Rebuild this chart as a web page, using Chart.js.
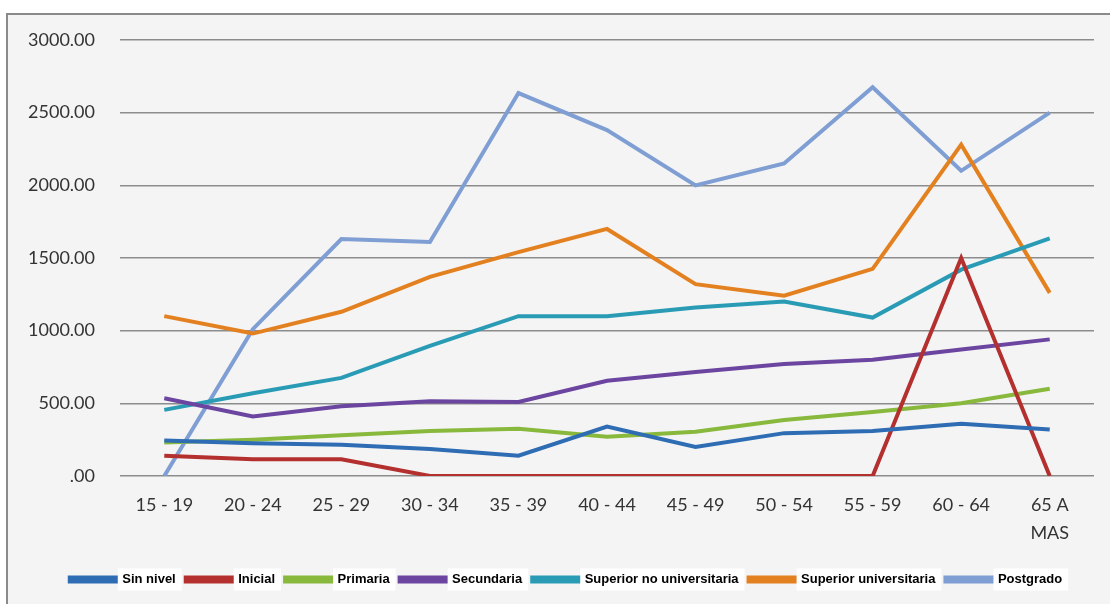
<!DOCTYPE html>
<html>
<head>
<meta charset="utf-8">
<script src="https://cdn.jsdelivr.net/npm/chart.js@4/dist/chart.umd.min.js"></script>
<style>
  body { margin: 0; background: #ffffff; }
  #marco { position: absolute; left: 6px; top: 13px; width: 1110px; height: 600px;
           border-left: 2px solid #8a8a8a; border-top: 2px solid #8a8a8a; background: #f4f4f4; }
  #wrap { position: absolute; left: 0; top: 0; width: 1110px; height: 604px; }
</style>
</head>
<body>
<div id="marco"></div>
<div id="wrap"><canvas id="grafico"></canvas></div>
<script>
// Datos
const edades = ["15 - 19", "20 - 24", "25 - 29", "30 - 34", "35 - 39", "40 - 44", "45 - 49", "50 - 54", "55 - 59", "60 - 64", ["65 A", "MAS"]];
const sinNivel = [245, 225, 215, 185, 140, 340, 200, 295, 310, 360, 320];
const inicial = [140, 115, 115, 0, 0, 0, 0, 0, 0, 1500, 0];
const primaria = [230, 250, 280, 310, 325, 270, 305, 385, 440, 500, 600];
const secundaria = [535, 410, 480, 515, 510, 655, 715, 770, 800, 870, 940];
const superiorNoUniv = [455, 570, 675, 895, 1100, 1100, 1160, 1200, 1090, 1420, 1635];
const superiorUniv = [1100, 980, 1130, 1370, 1540, 1700, 1320, 1240, 1425, 2280, 1260];
const postgrado = [0, 1010, 1630, 1610, 2635, 2380, 2000, 2150, 2675, 2100, 2500];

const colores = ["#2e6cb3", "#b3302f", "#88b93c", "#6b45a0", "#2a9bb5", "#e3801f", "#7f9ed3"];

function serie(label, data, color) {
    return {
        label: label,
        data: data,
        borderColor: color,
        backgroundColor: color,
        borderWidth: 4,
        pointRadius: 0,
        tension: 0,
        fill: false,
    };
}

// Leyenda: desplazada a la derecha y con fondo blanco detrás de los textos
const fondoLeyenda = {
    id: "fondoLeyenda",
    afterLayout(chart) {
        const leg = chart.legend;
        if (!leg) return;
        leg.left += 19;
        leg.right += 19;
    },
    beforeDraw(chart) {
        const leg = chart.legend;
        if (!leg || !leg.legendHitBoxes) return;
        const ctx = chart.ctx;
        const bw = leg.options.labels.boxWidth;
        ctx.save();
        ctx.fillStyle = "#ffffff";
        leg.legendHitBoxes.forEach(hb => {
            ctx.fillRect(hb.left + bw + 2, hb.top + hb.height / 2 - 11, hb.width - bw + 4, 22);
        });
        ctx.restore();
    }
};

const ctx = document.getElementById("grafico").getContext("2d");
new Chart(ctx, {
    type: "line",
    data: {
        labels: edades,
        datasets: [
            serie("Sin nivel", sinNivel, colores[0]),
            serie("Inicial", inicial, colores[1]),
            serie("Primaria", primaria, colores[2]),
            serie("Secundaria", secundaria, colores[3]),
            serie("Superior no universitaria", superiorNoUniv, colores[4]),
            serie("Superior universitaria", superiorUniv, colores[5]),
            serie("Postgrado", postgrado, colores[6]),
        ],
    },
    options: {
        responsive: true,
        maintainAspectRatio: false,
        animation: false,
        layout: { padding: { left: 0, right: 16, top: 40, bottom: 8 } },
        plugins: {
            legend: {
                position: "bottom",
                labels: {
                    boxWidth: 46,
                    boxHeight: 4,
                    padding: 10,
                    color: "#000000",
                    font: { family: "'Liberation Sans', Arial", size: 13, weight: "bold" },
                },
            },
            tooltip: { enabled: false },
        },
        scales: {
            x: {
                offset: true,
                grid: { display: false },
                border: { display: false },
                ticks: {
                    color: "#333333",
                    padding: 7,
                    maxRotation: 0,
                    autoSkip: false,
                    font: { family: "Lato, 'Open Sans', sans-serif", size: 18, lineHeight: 1.55 },
                },
                afterFit(scale) { scale.height = 87; },
            },
            y: {
                min: 0,
                max: 3000,
                ticks: {
                    stepSize: 500,
                    color: "#333333",
                    padding: 25,
                    font: { family: "Lato, 'Open Sans', sans-serif", size: 18 },
                    callback: v => v === 0 ? ".00" : v.toFixed(2),
                },
                grid: { color: "#8c8c8c", lineWidth: 1.5, drawTicks: false },
                border: { display: false },
                afterFit(scale) { scale.width = 120; },
            },
        },
    },
    plugins: [fondoLeyenda],
});
</script>
</body>
</html>
